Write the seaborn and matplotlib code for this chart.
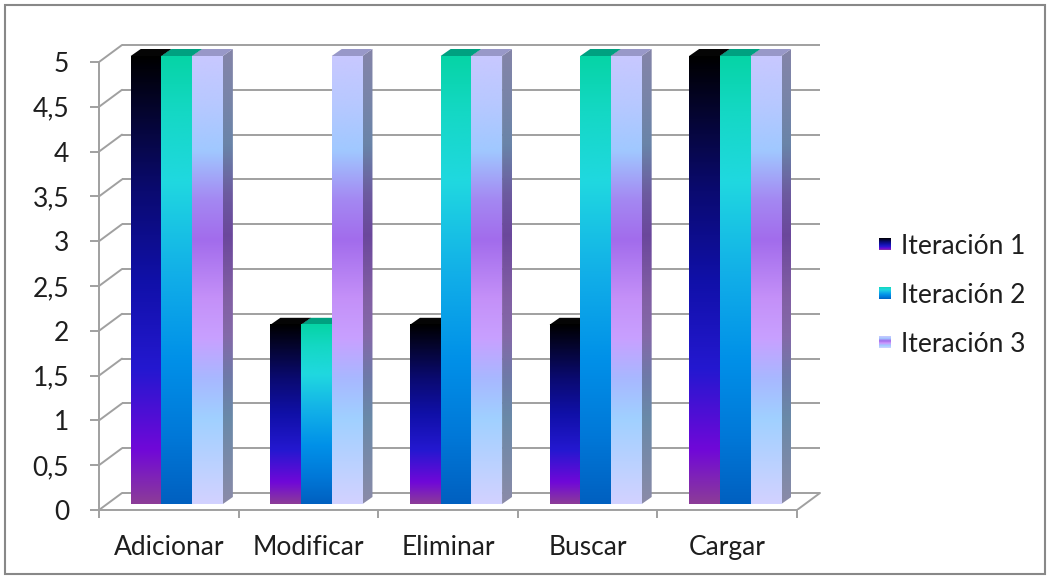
import numpy as np
import pandas as pd
import matplotlib
matplotlib.use("Agg")
import matplotlib.pyplot as plt
import seaborn as sns
from matplotlib.colors import LinearSegmentedColormap
from matplotlib.patches import Polygon, Rectangle

# ---- data ----
categories = ["Adicionar", "Modificar", "Eliminar", "Buscar", "Cargar"]
series_names = ["Iteración 1", "Iteración 2", "Iteración 3"]
iteracion_1 = [5, 2, 2, 2, 5]
iteracion_2 = [5, 2, 5, 5, 5]
iteracion_3 = [5, 5, 5, 5, 5]
y_ticks = [0, 0.5, 1, 1.5, 2, 2.5, 3, 3.5, 4, 4.5, 5]
y_tick_labels = ["0", "0,5", "1", "1,5", "2", "2,5", "3", "3,5", "4", "4,5", "5"]

series_values = [iteracion_1, iteracion_2, iteracion_3]
df = pd.DataFrame(
    [(c, s, v) for s, vals in zip(series_names, series_values)
     for c, v in zip(categories, vals)],
    columns=["Acción", "Serie", "Valor"],
)

# ---- gradient fills (stops listed bottom -> top) ----
grad_stops = [
    [(0.00, "#8c3c98"), (0.12, "#7008d8"), (0.30, "#2418d0"), (0.50, "#1010a8"),
     (0.70, "#0a0a70"), (0.86, "#050535"), (1.00, "#000000")],
    [(0.00, "#0060c0"), (0.15, "#0078d8"), (0.32, "#0090e8"), (0.52, "#12b0e8"),
     (0.72, "#20d8e0"), (0.88, "#14d8c4"), (1.00, "#06d4a6")],
    [(0.00, "#d2d2ff"), (0.19, "#a0d0ff"), (0.28, "#a8b8ff"), (0.37, "#c8a0ff"),
     (0.46, "#c490f8"), (0.59, "#a26cec"), (0.68, "#a488f2"), (0.79, "#a0c8ff"),
     (0.90, "#b8c8ff"), (1.00, "#c8c8ff")],
]
top_colors = ["#050505", "#00a080", "#9898c8"]
cmaps = [LinearSegmentedColormap.from_list(f"g{i}", st) for i, st in enumerate(grad_stops)]


def gradient(cmap, darken=1.0, n=256):
    rgb = cmap(np.linspace(0, 1, n))[:, :3] * darken
    return rgb.reshape(n, 1, 3)


sns.set_theme(style="white")
plt.rcParams["font.family"] = ["Lato", "DejaVu Sans"]
FS = 19
TXT = "#1e1e1e"
GRID = "#a0a0a0"

W, H = 1051, 578
fig = plt.figure(figsize=(W / 100, H / 100), dpi=100)

# front plane of the plot in pixels (x from left, y from top)
FX0, FX1 = 99, 797
FY0, FY1 = 510, 62
sx = (FX1 - FX0) / 5.0   # pixels per category
sy = (FY0 - FY1) / 5.0   # pixels per unit
XEXTRA, YEXTRA = 0.25, 0.35
ax = fig.add_axes([FX0 / W, (H - FY0) / H,
                   (FX1 - FX0 + XEXTRA * sx) / W, (FY0 - FY1 + YEXTRA * sy) / H])

sns.barplot(data=df, x="Acción", y="Valor", hue="Serie", order=categories,
            hue_order=series_names, width=0.66, saturation=1, ax=ax, legend=False)

# depth offsets (converted from pixels to data units)
WDX, WDY = 23 / sx, 17 / sy      # back wall
BDX, BDY = 8 / sx, 6 / sy        # bar position inside the depth
TDX, TDY = 10 / sx, 7 / sy       # bar depth

# walls and floor
for t in y_ticks:
    ax.plot([-0.5 + WDX, 4.5 + WDX], [t + WDY, t + WDY], color=GRID, lw=1.4,
            zorder=1, solid_capstyle="butt")
    ax.plot([-0.5, -0.5 + WDX], [t, t + WDY], color=GRID, lw=1.4, zorder=1)
ax.plot([4.5, 4.5 + WDX], [0, WDY], color=GRID, lw=1.4, zorder=1)

# bars: gradient front, flat top, shaded side
bars = []
for si, cont in enumerate(ax.containers):
    for ci, rect in enumerate(cont):
        bars.append((ci, si, rect))
bars.sort(key=lambda b: (b[0], b[1]))

z = 3.0
for ci, si, rect in bars:
    x0 = rect.get_x() + BDX
    w = rect.get_width()
    h = rect.get_height()
    y0 = BDY
    rect.set_visible(False)
    x1 = x0 + w
    yt = y0 + h
    side = Polygon([(x1, y0), (x1, yt), (x1 + TDX, yt + TDY), (x1 + TDX, y0 + TDY)],
                   closed=True, transform=ax.transData, fc="none", ec="none")
    im = ax.imshow(gradient(cmaps[si], 0.66), origin="lower", aspect="auto",
                   extent=[x1, x1 + TDX, y0, yt + TDY], interpolation="bilinear",
                   zorder=z)
    im.set_clip_path(side)
    ax.add_patch(Polygon([(x0, yt), (x1, yt), (x1 + TDX, yt + TDY), (x0 + TDX, yt + TDY)],
                         closed=True, fc=top_colors[si], ec="none", zorder=z + 0.001))
    ax.imshow(gradient(cmaps[si]), origin="lower", aspect="auto",
              extent=[x0, x1, y0, yt], interpolation="bilinear", zorder=z + 0.002)
    z += 0.01

ax.set_xlim(-0.5, 4.5 + XEXTRA)
ax.set_ylim(0, 5 + YEXTRA)

# axes styling
for name in ["top", "right"]:
    ax.spines[name].set_visible(False)
for name in ["left", "bottom"]:
    ax.spines[name].set_color(GRID)
    ax.spines[name].set_linewidth(1.4)
ax.spines["left"].set_bounds(0, 5)
ax.spines["bottom"].set_bounds(-0.5, 4.5)
ax.set_yticks(y_ticks)
ax.set_yticklabels(y_tick_labels)
ax.set_xticks(range(len(categories)))
ax.set_xticklabels(categories)
ax.set_xticks(np.arange(-0.5, 5.0, 1.0), minor=True)
ax.tick_params(axis="y", which="major", direction="out", length=6.5, width=1.4,
               color=GRID, pad=15, labelsize=FS, labelcolor=TXT, left=True)
ax.tick_params(axis="x", which="major", length=0, pad=18, labelsize=FS,
               labelcolor=TXT, bottom=True)
ax.tick_params(axis="x", which="minor", direction="out", length=5.8, width=1.4,
               color=GRID, bottom=True)
ax.set_xlabel("")
ax.set_ylabel("")
ax.grid(False)
ax.set_facecolor("none")

# legend
for i, name in enumerate(series_names):
    cy = [244, 293, 342][i]
    lax = fig.add_axes([879 / W, (H - cy - 6) / H, 12 / W, 12 / H])
    lax.imshow(gradient(cmaps[i]), origin="lower", aspect="auto", interpolation="bilinear")
    lax.set_axis_off()
    fig.text(901 / W, (H - cy) / H, name, fontsize=FS, color=TXT, va="center_baseline",
             ha="left")

# outer frame
fig.patches.append(Rectangle((5 / W, 4 / H), 1040 / W, 569 / H, transform=fig.transFigure,
                             fill=False, ec="#888888", lw=1.5))

fig.savefig("out.png", dpi=100, facecolor="white")
